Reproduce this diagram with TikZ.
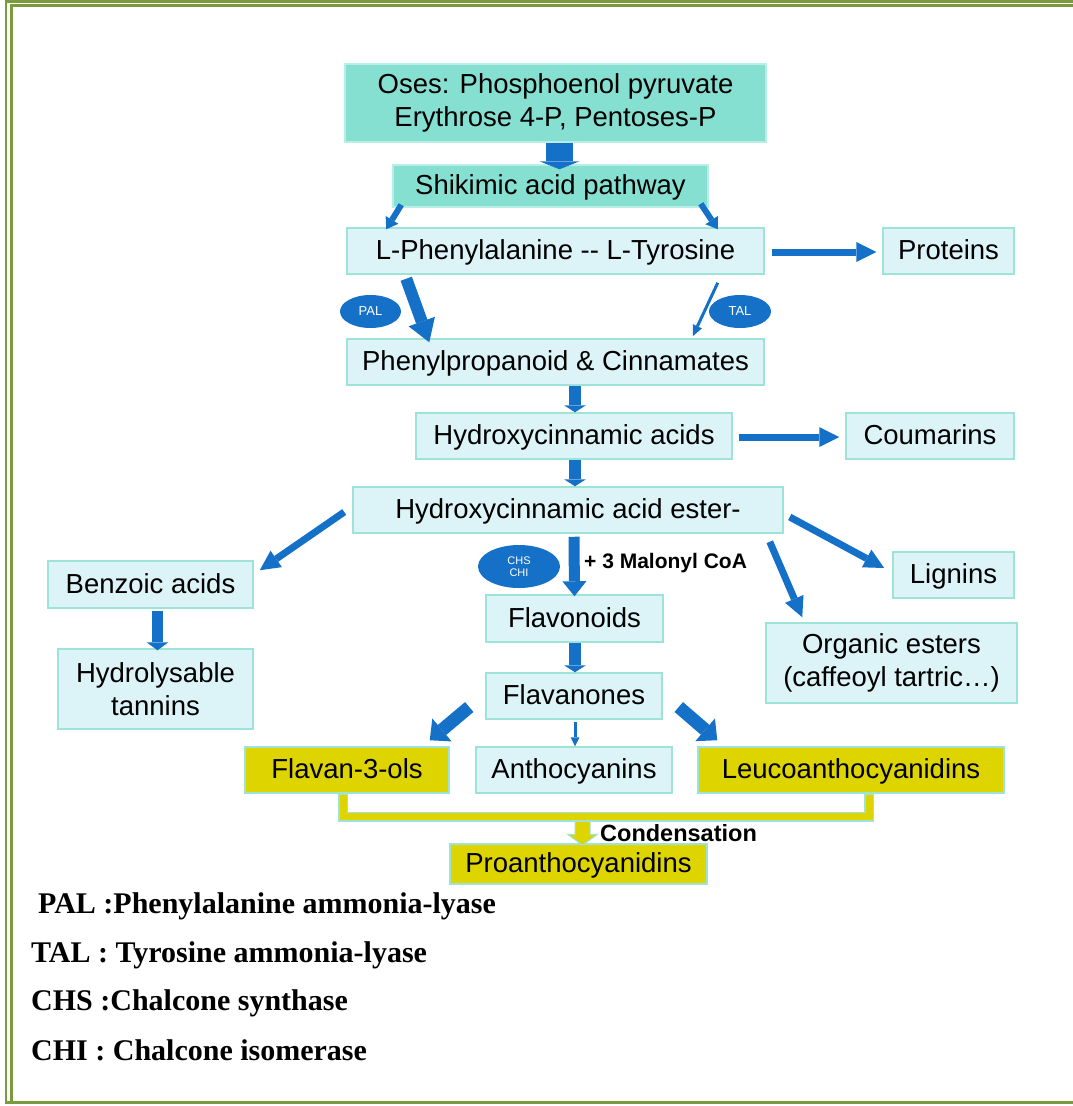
\documentclass[tikz,border=0pt]{standalone}
\usepackage{fontspec}
\setmainfont{Liberation Sans}
\newfontfamily\legendfont{Liberation Serif}
\usetikzlibrary{arrows.meta,calc,shapes.geometric}
\definecolor{tealfill}{HTML}{86E0D2}
\definecolor{tealborder}{HTML}{B8EEE6}
\definecolor{lightfill}{HTML}{DCF4F8}
\definecolor{lightborder}{HTML}{9EE3D8}
\definecolor{yelfill}{HTML}{DDD400}
\definecolor{arrowblue}{HTML}{1570C8}
\definecolor{framegreen}{HTML}{7A9A3E}
\tikzset{
  box/.style={draw=lightborder, fill=lightfill, line width=1.5pt, inner sep=0pt,
    font=\fontsize{27.5}{32.5}\selectfont, align=center},
  one/.style={text height=20pt, text depth=3pt},
  tbox/.style={box, fill=tealfill, draw=tealborder},
  ybox/.style={box, fill=yelfill},
  enz/.style={ellipse, fill=arrowblue, text=white, inner sep=0pt, align=center},
  blk/.style n args={3}{draw=arrowblue, line width=#1,
    -{Triangle[length=#2, width=#3, line width=0pt]}},
  legend/.style={anchor=base west, inner sep=0pt,
    font=\legendfont\bfseries\fontsize{30}{34}\selectfont},
  lbl/.style={anchor=west, inner sep=0pt, font=\bfseries},
  frame/.style={draw=framegreen}
}
\begin{document}
\begin{tikzpicture}[x=1pt,y=-1pt]
\useasboundingbox (0,0) rectangle (1073,1106);
% frame
\draw[frame, line width=2.5pt] (5,1.3) -- (1073,1.3);
\draw[frame, line width=2.5pt] (10,5.5) -- (1073,5.5);
\draw[frame, line width=2pt] (6,0) -- (6,1104);
\draw[frame, line width=2.5pt] (11.3,4) -- (11.3,1101);
\draw[frame, line width=3pt] (5,1102.5) -- (1073,1102.5);

% nodes
\node[tbox, minimum width=421, minimum height=78] (oses) at (555.5,103)
  {Oses: Phosphoenol pyruvate\\Erythrose 4-P, Pentoses-P};
\node[tbox, one, minimum width=315, minimum height=42] (shik) at (550.5,186) {Shikimic acid pathway};
\node[box, one, minimum width=417, minimum height=46] (phe) at (555.5,251) {L-Phenylalanine -{}- L-Tyrosine};
\node[box, one, minimum width=131, minimum height=46] (prot) at (948.5,251) {Proteins};
\node[enz, minimum width=61, minimum height=33, font=\fontsize{13}{14}\selectfont] (pal) at (370.5,311.5) {PAL};
\node[enz, minimum width=62, minimum height=33, font=\fontsize{13}{14}\selectfont] (tal) at (740,311.5) {TAL};
\node[box, one, minimum width=417, minimum height=46] (ppc) at (555.5,362) {Phenylpropanoid \& Cinnamates};
\node[box, one, minimum width=316, minimum height=46] (hca) at (574,436) {Hydroxycinnamic acids};
\node[box, one, minimum width=168, minimum height=46] (coum) at (930,436) {Coumarins};
\node[box, one, minimum width=430, minimum height=46] (hcae) at (568,510) {Hydroxycinnamic acid ester-};
\node[box, one, minimum width=205, minimum height=47] (benz) at (150.5,584.5) {Benzoic acids};
\node[box, minimum width=195, minimum height=80] (hydt) at (155.5,689) {Hydrolysable\\tannins};
\node[enz, minimum width=82, minimum height=43, font=\fontsize{11}{12}\selectfont] (chs) at (519,566.5) {CHS\\CHI};
\node[lbl, font=\bfseries\fontsize{21}{24}\selectfont] (malo) at (584,563) {+ 3 Malonyl CoA};
\node[box, one, minimum width=177, minimum height=47] (flavo) at (574.5,618.5) {Flavonoids};
\node[box, one, minimum width=121, minimum height=46] (lign) at (953.5,575) {Lignins};
\node[box, minimum width=251, minimum height=80] (orgest) at (891.5,663) {Organic esters\\(caffeoyl tartric\ldots)};
\node[box, one, minimum width=176, minimum height=46] (flavan) at (574,696) {Flavanones};
\node[ybox, one, minimum width=204, minimum height=46] (f3ol) at (347,770) {Flavan-3-ols};
\node[box, one, minimum width=196, minimum height=46] (antho) at (574,770) {Anthocyanins};
\node[ybox, one, minimum width=306, minimum height=46] (leuco) at (851,770) {Leucoanthocyanidins};
\node[ybox, one, minimum width=257, minimum height=40] (proa) at (578.5,864) {Proanthocyanidins};
\node[lbl, font=\bfseries\fontsize{23.5}{26}\selectfont] (cond) at (600,833) {Condensation};

% blue arrows
\draw[blk={27pt}{8pt}{40pt}] ($(oses.south)+(4,0)$) -- ($(shik.north)+(9,5)$);
\draw[blk={6pt}{11pt}{15pt}] ($(shik.south west)+(9,-3)$) -- ($(phe.north west)+(40,2)$);
\draw[blk={6pt}{11pt}{15pt}] ($(shik.south east)+(-8,-4)$) -- ($(phe.north east)+(-47,2)$);
\draw[blk={7pt}{20pt}{20pt}] ($(phe.east)+(7,1)$) -- ($(prot.west)+(-6,1)$);
\draw[blk={12pt}{22pt}{28pt}] ($(phe.south west)+(60,4)$) -- ($(ppc.north west)+(83,4)$);
\draw[blk={3pt}{11pt}{10pt}] ($(phe.south east)+(-47,8)$) -- ($(ppc.north east)+(-72,-2)$);
\draw[blk={12pt}{7pt}{22pt}] ($(ppc.south)+(19.5,0)$) -- ($(hca.north)+(1,0)$);
\draw[blk={12pt}{7pt}{22pt}] ($(hca.south)+(1,0)$) -- ($(hcae.north)+(7,0)$);
\draw[blk={7pt}{20pt}{20pt}] ($(hca.east)+(6,1)$) -- ($(coum.west)+(-6,1)$);
\draw[blk={7pt}{20pt}{20pt}] ($(hcae.west)+(-8,2)$) -- ($(benz.north east)+(6,10)$);
\draw[blk={11pt}{15pt}{24pt}] ($(hcae.south)+(6,3)$) -- ($(flavo.north)+(0,2)$);
\draw[blk={7pt}{20pt}{20pt}] ($(hcae.east)+(6,7)$) -- ($(lign.west)+(-8,-7)$);
\draw[blk={7pt}{20pt}{20pt}] ($(hcae.south east)+(-14,8)$) -- ($(orgest.north west)+(37,-5)$);
\draw[blk={11pt}{8pt}{22pt}] ($(benz.south)+(7,2)$) -- ($(hydt.north)+(2,2)$);
\draw[blk={12pt}{7pt}{22pt}] ($(flavo.south)+(0.5,0)$) -- ($(flavan.north)+(1,0)$);
\draw[blk={13pt}{16pt}{30pt}] ($(flavan.west)+(-16,11)$) -- ($(f3ol.north east)+(-20,-6)$);
\draw[blk={3pt}{9pt}{9pt}] ($(flavan.south)+(1,2)$) -- ($(antho.north)+(1,0)$);
\draw[blk={13pt}{16pt}{30pt}] ($(flavan.east)+(16,11)$) -- ($(leuco.north west)+(20,-6)$);

% condensation arrow
\coordinate (cc) at ($(proa.north)+(4,0)$);
\filldraw[fill=yelfill, draw=lightborder, line width=1pt]
  ($(cc)+(-7.5,-26)$) -- ($(cc)+(7.5,-26)$) -- ($(cc)+(7.5,-9)$) -- ($(cc)+(15,-9)$)
  -- ($(cc)+(0,2)$) -- ($(cc)+(-15,-9)$) -- ($(cc)+(-7.5,-9)$) -- cycle;
% bracket
\draw[lightborder, line width=10pt, line join=miter]
  ($(f3ol.south)+(-4,0)$) |- ($(leuco.south)+(18,23)$) -- ($(leuco.south)+(18,0)$);
\draw[yelfill, line width=7pt, line join=miter]
  ($(f3ol.south)+(-4,1)$) |- ($(leuco.south)+(18,23)$) -- ($(leuco.south)+(18,1)$);

% legend
\node[legend] (l1) at (38,913) {PAL :Phenylalanine ammonia-lyase};
\node[legend] (l2) at (31,962) {TAL : Tyrosine ammonia-lyase};
\node[legend] (l3) at (31,1010) {CHS :Chalcone synthase};
\node[legend] (l4) at (31,1060) {CHI : Chalcone isomerase};
\end{tikzpicture}
\end{document}
